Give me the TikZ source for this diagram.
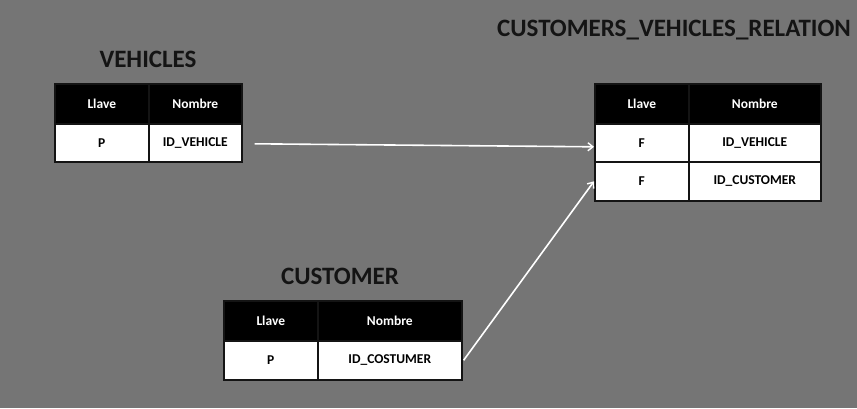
\documentclass[tikz,border=0pt]{standalone}
\usepackage{fontspec}
\setmainfont{Carlito}
\usetikzlibrary{arrows.meta}
\definecolor{bg}{RGB}{117,117,117}
\definecolor{ink}{RGB}{20,20,20}
\tikzset{
  cell/.style={draw=ink, line width=1.6pt, inner sep=0pt, anchor=north west, font=\bfseries\fontsize{13.5}{16}\selectfont},
  hcell/.style={cell, fill=black, text=white},
  bcell/.style={cell, fill=white, text=black},
  ttl/.style={font=\bfseries\fontsize{25}{30}\selectfont, text=ink},
  link/.style={draw=white, line width=1.6pt, -{Straight Barb[length=5pt,width=8pt,line width=1.4pt]}}
}
\begin{document}
\begin{tikzpicture}[x=1pt,y=-1pt]
\useasboundingbox[fill=bg] (0,0) rectangle (857,408);
% VEHICLES
\node[ttl] (tv) at (148,59) {VEHICLES};
\node[hcell, minimum width=94pt, minimum height=40pt] (vh1) at (54,83) {Llave};
\node[hcell, minimum width=93pt, minimum height=40pt] (vh2) at (148,83) {Nombre};
\node[bcell, minimum width=94pt, minimum height=38pt] (vk) at (54,123) {P};
\node[bcell, minimum width=93pt, minimum height=38pt] (vid) at (148,123) {ID\_VEHICLE};
% RELATION
\node[ttl] (tr) at (674,30) {CUSTOMERS\_VEHICLES\_RELATION};
\node[hcell, minimum width=94pt, minimum height=40pt] (rh1) at (594,83) {Llave};
\node[hcell, minimum width=132pt, minimum height=40pt] (rh2) at (688,83) {Nombre};
\node[bcell, minimum width=94pt, minimum height=38pt] (r1k) at (594,123) {F};
\node[bcell, minimum width=132pt, minimum height=38pt] (r1n) at (688,123) {ID\_VEHICLE};
\node[bcell, minimum width=94pt, minimum height=39pt] (r2k) at (594,161) {F};
\node[bcell, minimum width=132pt, minimum height=39pt] (r2n) at (688,161) {ID\_CUSTOMER};
% CUSTOMER
\node[ttl] (tc) at (340,276) {CUSTOMER};
\node[hcell, minimum width=94pt, minimum height=40pt] (ch1) at (223,300) {Llave};
\node[hcell, minimum width=144pt, minimum height=40pt] (ch2) at (317,300) {Nombre};
\node[bcell, minimum width=94pt, minimum height=39pt] (ck) at (223,340) {P};
\node[bcell, minimum width=144pt, minimum height=39pt] (cid) at (317,340) {ID\_COSTUMER};
% links
\draw[link] ([xshift=12pt,yshift=-1pt]vid.east) -- ([yshift=-4pt]r1k.west);
\draw[link] ([xshift=1pt]cid.east) -- ([yshift=0pt]r2k.west);
\end{tikzpicture}
\end{document}
